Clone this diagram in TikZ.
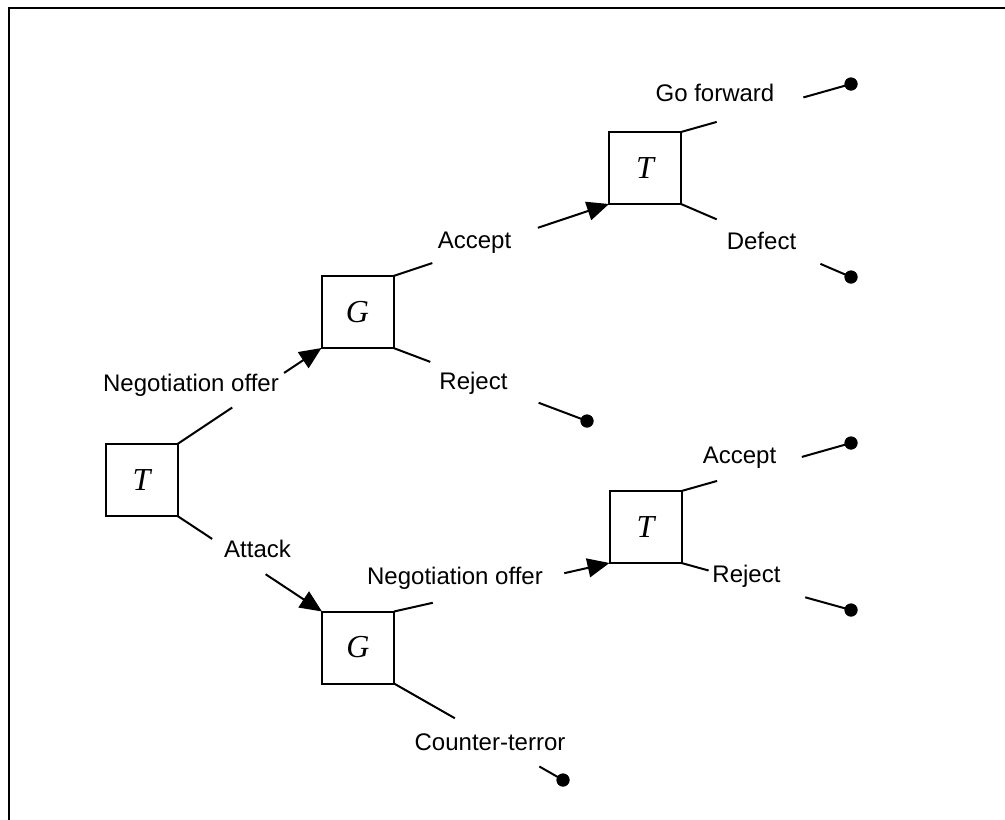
\documentclass[tikz,border=0pt]{standalone}
\usepackage{fontspec}
\setmainfont{Liberation Sans}
\newfontfamily\playerfont{Liberation Serif}
\usetikzlibrary{arrows.meta,calc}

\tikzset{
  player/.style={draw, line width=2pt, minimum size=72pt, inner sep=0pt, outer sep=0pt,
                 font=\playerfont\itshape\fontsize{32}{32}\selectfont},
  move/.style={anchor=base, inner sep=0pt, font=\fontsize{24}{28}\selectfont},
  branch/.style={line width=2pt},
  arrowed/.style={branch, -{Triangle[length=22pt, width=19pt]}},
  payoff/.style={circle, fill=black, minimum size=13pt, inner sep=0pt},
  frame/.style={line width=2.5pt}
}

\begin{document}
\begin{tikzpicture}[x=1pt, y=-1pt]
\useasboundingbox (0,0) rectangle (1005,820);

% outer frame (only top and left edges fall inside the page)
\draw[frame] (1005,8) -- (9,8) -- (9,820);

% decision boxes
\node[player] (root) at (141.5,480) {T};
\node[player] (gup)  at (357.5,312) {G};
\node[player] (gdn)  at (358,647.5) {G};
\node[player] (tup)  at (645,168)   {T};
\node[player] (tdn)  at (645.5,527) {T};

% terminal points
\node[payoff] (e1) at (851,84)  {};
\node[payoff] (e2) at (851,277) {};
\node[payoff] (e3) at (587,421) {};
\node[payoff] (e4) at (851,443) {};
\node[payoff] (e5) at (851,610) {};
\node[payoff] (e6) at (563,780) {};

% move labels
\node[move] (l1)  at (191,391)   {Negotiation offer};
\node[move] (l2)  at (257.5,557) {Attack};
\node[move] (l3)  at (474.5,248) {Accept};
\node[move] (l4)  at (473.5,389) {Reject};
\node[move] (l5)  at (715,101)   {Go forward};
\node[move] (l6)  at (761.5,249) {Defect};
\node[move] (l7)  at (455,584)   {Negotiation offer};
\node[move] (l8)  at (490,750)   {Counter-terror};
\node[move] (l9)  at (739.5,463) {Accept};
\node[move] (l10) at (746.5,582) {Reject};

% branches, broken where the label sits
\draw[branch]  (root.north east) -- ($(root.north east)!0.38!(gup.south west)$);
\draw[arrowed] ($(root.north east)!0.74!(gup.south west)$) -- (gup.south west);

\draw[branch]  (root.south east) -- ($(root.south east)!0.24!(gdn.north west)$);
\draw[arrowed] ($(root.south east)!0.61!(gdn.north west)$) -- (gdn.north west);

\draw[branch]  (gup.north east) -- ($(gup.north east)!0.18!(tup.south west)$);
\draw[arrowed] ($(gup.north east)!0.67!(tup.south west)$) -- (tup.south west);

\draw[branch] (gup.south east) -- ($(gup.south east)!0.19!(e3.center)$);
\draw[branch] ($(gup.south east)!0.75!(e3.center)$) -- (e3.center);

\draw[branch] (tup.north east) -- ($(tup.north east)!0.21!(e1.center)$);
\draw[branch] ($(tup.north east)!0.72!(e1.center)$) -- (e1.center);

\draw[branch] (tup.south east) -- ($(tup.south east)!0.21!(e2.center)$);
\draw[branch] ($(tup.south east)!0.82!(e2.center)$) -- (e2.center);

\draw[branch]  (gdn.north east) -- ($(gdn.north east)!0.18!(tdn.south west)$);
\draw[arrowed] ($(gdn.north east)!0.79!(tdn.south west)$) -- (tdn.south west);

\draw[branch] (gdn.south east) -- ($(gdn.south east)!0.36!(e6.center)$);
\draw[branch] ($(gdn.south east)!0.86!(e6.center)$) -- (e6.center);

\draw[branch] (tdn.north east) -- ($(tdn.north east)!0.21!(e4.center)$);
\draw[branch] ($(tdn.north east)!0.71!(e4.center)$) -- (e4.center);

\draw[branch] (tdn.south east) -- ($(tdn.south east)!0.16!(e5.center)$);
\draw[branch] ($(tdn.south east)!0.73!(e5.center)$) -- (e5.center);

% redraw terminal dots over the line ends
\foreach \d in {e1,e2,e3,e4,e5,e6} \fill (\d) circle (6.5pt);
\end{tikzpicture}
\end{document}
